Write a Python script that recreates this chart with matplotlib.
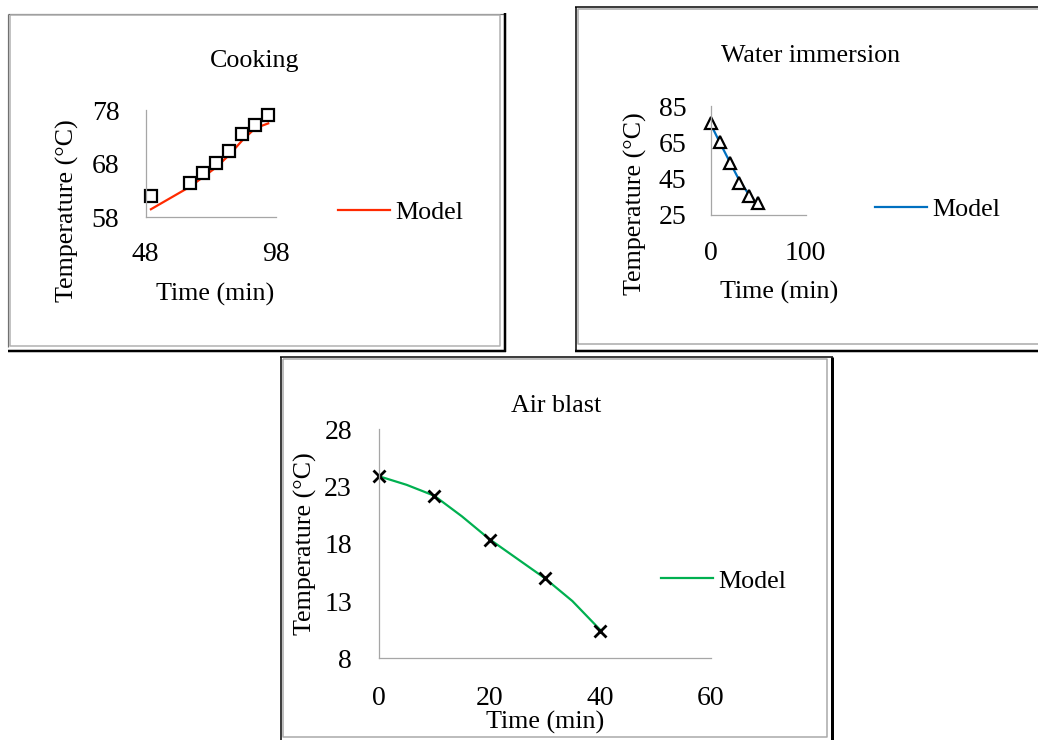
import matplotlib
matplotlib.use("Agg")
import matplotlib.pyplot as plt
from matplotlib.lines import Line2D

plt.rcParams['font.family'] = ['Liberation Serif', 'DejaVu Serif']

# ---------------- data
cook_t = [50, 65, 70, 75, 80, 85, 90, 95]
cook_exp = [61.9, 64.4, 66.2, 68.1, 70.3, 73.5, 75.2, 77.1]
cook_model = [59.5, 63.7, 65.5, 67.3, 69.6, 72.3, 74.6, 75.5]

water_t = [0, 10, 20, 30, 40, 50]
water_exp = [75.5, 65.3, 53.8, 42.8, 35.5, 31.4]
water_model = [75.0, 64.5, 54.3, 44.2, 36.4, 30.6]

air_t = [0, 10, 20, 30, 40]
air_exp = [23.9, 22.2, 18.3, 15.0, 10.4]
air_model_t = [0, 5, 10, 15, 20, 25, 30, 35, 40]
air_model = [23.9, 23.15, 22.2, 20.4, 18.4, 16.7, 15.0, 13.0, 10.5]

W, H = 1038, 740
FS = 18.7      # titles, labels, legend
TFS = 20       # tick labels
fig = plt.figure(figsize=(W / 100, H / 100), dpi=100)


def rect(l, t, r, b):
    return [l / W, 1 - b / H, (r - l) / W, (b - t) / H]


def fline(xs, ys, color, lw):
    fig.add_artist(Line2D([x / W for x in xs], [1 - y / H for y in ys],
                          transform=fig.transFigure, color=color,
                          lw=lw * 0.72, solid_capstyle='butt'))


def ftext(x, y, s, **kw):
    fig.text(x / W, 1 - y / H, s, fontsize=FS, **kw)


def style(ax, xlim, ylim, xt, yt, xpad, ypad):
    ax.set_xlim(*xlim)
    ax.set_ylim(*ylim)
    ax.set_xticks(xt)
    ax.set_yticks(yt)
    for s in ['top', 'right']:
        ax.spines[s].set_visible(False)
    for s in ['left', 'bottom']:
        ax.spines[s].set_color('#A6A6A6')
        ax.spines[s].set_linewidth(0.9)
    ax.tick_params(axis='x', length=0, labelsize=TFS, pad=xpad)
    ax.tick_params(axis='y', length=0, labelsize=TFS, pad=ypad)
    ax.patch.set_alpha(0)


def legend(ax, x, y):
    ax.legend(loc='center left', bbox_to_anchor=(x / W, 1 - y / H),
              bbox_transform=fig.transFigure, frameon=False, fontsize=FS,
              handlelength=2.0, handletextpad=0.2, borderpad=0,
              borderaxespad=0)


# ---------------- frames
# cooking
fline([8.3, 8.3], [13.5, 346.5], '#707070', 1.2)
fline([8, 505], [13.5, 13.5], '#707070', 1.2)
fline([9.8, 499.5, 499.5, 9.8, 9.8], [15, 15, 346, 346, 15], '#B0B0B0', 1.5)
fline([504.8, 504.8], [13, 352.2], 'black', 2.5)
fline([8, 506], [351, 351], 'black', 2.5)
# water immersion
fline([575.8, 575.8], [7, 351.5], 'black', 1.5)
fline([575, 1038], [7.2, 7.2], 'black', 1.5)
fline([1038, 577.8, 577.8, 1038], [9, 9, 344, 344], '#A8A8A8', 1.5)
fline([575, 1038], [350.5, 350.5], 'black', 2.5)
# air blast
fline([280.8, 280.8], [357, 740], 'black', 1.5)
fline([280, 833], [357.3, 357.3], 'black', 1.5)
fline([282.8, 826.7, 826.7, 282.8, 282.8], [359.3, 359.3, 737.3, 737.3, 359.3],
      '#A8A8A8', 1.5)
fline([832.3, 832.3], [357, 740], 'black', 3)

# ---------------- cooking
ax1 = fig.add_axes(rect(145.7, 110, 276, 217.3))
ax1.plot(cook_t, cook_model, color='#FF2A00', lw=1.6, label='Model')
ax1.plot(cook_t, cook_exp, ls='none', marker='s', ms=9, mfc='white',
         mec='black', mew=1.6, clip_on=False, label='_nolegend_')
style(ax1, (48, 98), (58, 78), [48, 98], [58, 68, 78], 18, 19)
legend(ax1, 337.7, 212)
ftext(254.5, 66.5, 'Cooking', ha='center', va='baseline')
ftext(215, 301, 'Time (min)', ha='center', va='baseline')
ftext(67.5, 210.5, 'Temperature (°C)', ha='center', va='center', rotation=90)

# ---------------- water immersion
ax2 = fig.add_axes(rect(710.7, 106, 805.7, 215))
ax2.plot(water_t, water_model, color='#0070C0', lw=1.6, label='Model')
ax2.plot(water_t, water_exp, ls='none', marker='^', ms=9, mfc='white',
         mec='black', mew=1.6, clip_on=False, label='_nolegend_')
style(ax2, (0, 100), (25, 85), [0, 100], [25, 45, 65, 85], 19, 17.5)
legend(ax2, 875, 209)
ftext(810.8, 61.7, 'Water immersion', ha='center', va='baseline')
ftext(779, 298.5, 'Time (min)', ha='center', va='baseline')
ftext(635.8, 204, 'Temperature (°C)', ha='center', va='center', rotation=90)

# ---------------- air blast
ax3 = fig.add_axes(rect(379, 429.3, 710.5, 658.3))
ax3.plot(air_model_t, air_model, color='#00B050', lw=1.6, label='Model')
ax3.plot(air_t, air_exp, ls='none', marker='x', ms=8.5, mec='black',
         mew=2, clip_on=False, label='_nolegend_')
style(ax3, (0, 60), (8, 28), [0, 20, 40, 60], [8, 13, 18, 23, 28], 20, 19.5)
legend(ax3, 661, 581)
ftext(555.7, 411.7, 'Air blast', ha='center', va='baseline')
ftext(545.6, 728.7, 'Time (min)', ha='center', va='baseline')
ftext(305.7, 544, 'Temperature (°C)', ha='center', va='center', rotation=90)

fig.savefig('out.png', dpi=100)
